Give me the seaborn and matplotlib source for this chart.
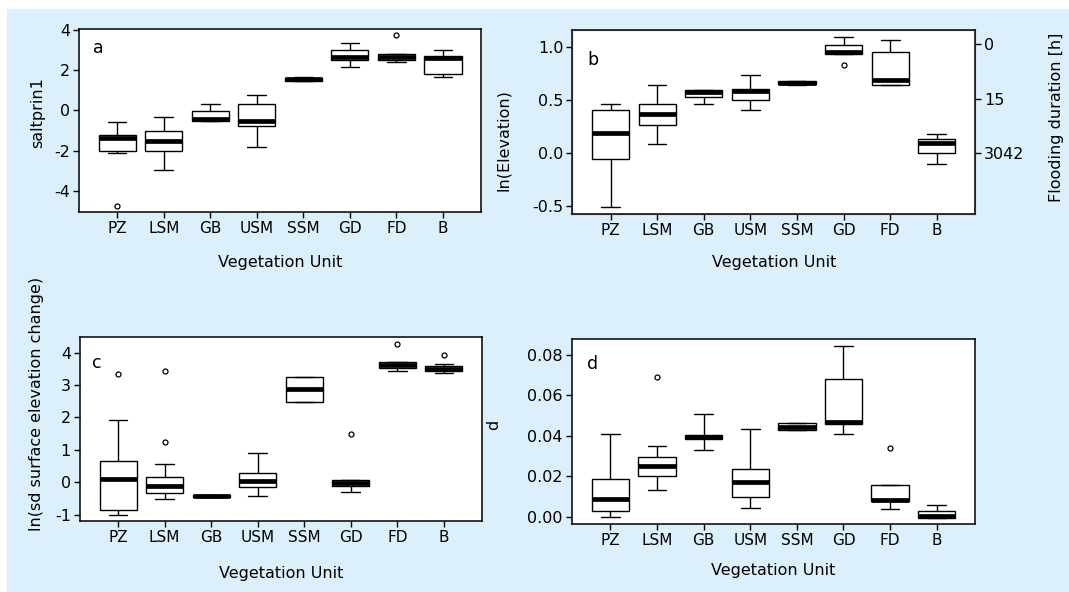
#!/usr/bin/env python3
"""
Boxplots of site variables per vegetation unit (four panels a-d).
"""

import numpy as np
import pandas as pd
import matplotlib
matplotlib.use("Agg")
import matplotlib.pyplot as plt
import seaborn as sns
from matplotlib.patches import Rectangle

units = ["PZ", "LSM", "GB", "USM", "SSM", "GD", "FD", "B"]

# five-number summaries per unit: (lower whisker, Q1, median, Q3, upper whisker)
saltprin1 = [
    (-2.11, -2.00, -1.35, -1.20, -0.58),
    (-2.97, -2.00, -1.53, -1.01, -0.31),
    (-0.52, -0.51, -0.42, -0.03, 0.30),
    (-1.80, -0.78, -0.51, 0.33, 0.78),
    (1.46, 1.48, 1.55, 1.62, 1.64),
    (2.13, 2.48, 2.66, 2.99, 3.37),
    (2.41, 2.52, 2.66, 2.79, 2.79),
    (1.65, 1.80, 2.59, 2.71, 3.00),
]
saltprin1_out_units = ["PZ", "FD"]
saltprin1_out = [-4.72, 3.73]

elevation = [
    (-0.517, -0.054, 0.186, 0.407, 0.467),
    (0.088, 0.262, 0.369, 0.464, 0.644),
    (0.467, 0.527, 0.577, 0.600, 0.600),
    (0.407, 0.502, 0.587, 0.609, 0.741),
    (0.645, 0.650, 0.666, 0.680, 0.685),
    (0.937, 0.937, 0.959, 1.025, 1.100),
    (0.644, 0.644, 0.691, 0.953, 1.066),
    (-0.104, -0.003, 0.091, 0.136, 0.183),
]
elevation_out_units = ["GD"]
elevation_out = [0.833]

# flooding duration shown on the right axis of panel b
flood_ticks = [1.03, 0.51, 0.0]
flood_labels = ["0", "15", "3042"]

sd_change = [
    (-0.99, -0.84, 0.10, 0.67, 1.92),
    (-0.51, -0.32, -0.11, 0.17, 0.57),
    (-0.45, -0.44, -0.42, -0.40, -0.39),
    (-0.42, -0.13, 0.04, 0.30, 0.90),
    (2.49, 2.49, 2.87, 3.25, 3.25),
    (-0.31, -0.12, -0.03, 0.06, 0.06),
    (3.44, 3.51, 3.61, 3.71, 3.71),
    (3.38, 3.42, 3.50, 3.60, 3.64),
]
sd_change_out_units = ["PZ", "LSM", "LSM", "GD", "FD", "B"]
sd_change_out = [3.35, 3.44, 1.25, 1.49, 4.25, 3.91]

d_values = [
    (0.0000, 0.0026, 0.0089, 0.0188, 0.0409),
    (0.0134, 0.0200, 0.0252, 0.0297, 0.0350),
    (0.0330, 0.0384, 0.0394, 0.0404, 0.0510),
    (0.0041, 0.0097, 0.0170, 0.0234, 0.0434),
    (0.0427, 0.0427, 0.0445, 0.0465, 0.0465),
    (0.0409, 0.0457, 0.0467, 0.0681, 0.0845),
    (0.0038, 0.0076, 0.0084, 0.0158, 0.0158),
    (-0.0008, -0.0008, 0.0003, 0.0028, 0.0058),
]
d_out_units = ["LSM", "FD"]
d_out = [0.0690, 0.0341]

BG = "#dcf0fb"

sns.set_style("ticks")
plt.rcParams["font.family"] = ["DejaVu Sans"]
plt.rcParams["axes.unicode_minus"] = False
plt.rcParams["text.color"] = "black"
plt.rcParams["axes.labelcolor"] = "black"
plt.rcParams["xtick.color"] = "black"
plt.rcParams["ytick.color"] = "black"


def long_frame(stats):
    rows = [(u, v) for u, s in zip(units, stats) for v in s]
    return pd.DataFrame(rows, columns=["unit", "value"])


def draw_panel(ax, stats, out_units, out_vals):
    df = long_frame(stats)
    sns.boxplot(data=df, x="unit", y="value", order=units, whis=(0, 100),
                width=0.8, color="white", saturation=1, linecolor="black",
                linewidth=1.0, showfliers=False,
                medianprops=dict(linewidth=3.4, solid_capstyle="butt"), ax=ax)
    sns.stripplot(x=out_units, y=out_vals, order=units, jitter=False,
                  color="white", edgecolor="black", linewidth=0.9, size=3.6,
                  ax=ax, zorder=5)
    ax.set_xlim(-0.82, 7.82)
    ax.tick_params(direction="out", length=4.5, width=1.0, colors="black",
                   labelsize=11.5, pad=2)
    ax.tick_params(axis="x", labelsize=11)
    for sp in ax.spines.values():
        sp.set_visible(True)
        sp.set_linewidth(1.1)
        sp.set_color("black")
    ax.set_facecolor("white")


fig = plt.figure(figsize=(10.69, 5.92), dpi=100)
fig.patch.set_facecolor("white")
fig.patches.append(Rectangle((7 / 1069, 0), 1, 1 - 9 / 592,
                             transform=fig.transFigure, color=BG, zorder=-10))

ax_a = fig.add_axes([0.0739, 0.6419, 0.3761, 0.3091])
ax_b = fig.add_axes([0.5354, 0.6385, 0.3767, 0.3108])
ax_c = fig.add_axes([0.0748, 0.1194, 0.3761, 0.3108])
ax_d = fig.add_axes([0.5351, 0.1154, 0.3770, 0.3115])

draw_panel(ax_a, saltprin1, saltprin1_out_units, saltprin1_out)
ax_a.set_ylim(-5.04, 4.04)
ax_a.set_yticks([-4, -2, 0, 2, 4])
ax_a.set_ylabel("saltprin1", fontsize=11.5)
ax_a.yaxis.set_label_coords(-0.085, 0.544)
ax_a.text(0.047, 0.895, "a", transform=ax_a.transAxes, ha="center", va="center", fontsize=12.5)
ax_a.xaxis.set_label_coords(0.572, -0.235)

draw_panel(ax_b, elevation, elevation_out_units, elevation_out)
ax_b.set_ylim(-0.58, 1.165)
ax_b.set_yticks([-0.5, 0.0, 0.5, 1.0])
ax_b.set_yticklabels(["-0.5", "0.0", "0.5", "1.0"])
ax_b.set_ylabel("ln(Elevation)", fontsize=11.5)
ax_b.yaxis.set_label_coords(-0.152, 0.40)
ax_b.text(0.052, 0.837, "b", transform=ax_b.transAxes, ha="center", va="center", fontsize=12.5)
ax_b.xaxis.set_label_coords(0.562, -0.223)

ax_b2 = ax_b.twinx()
ax_b2.set_ylim(ax_b.get_ylim())
ax_b2.set_yticks(flood_ticks)
ax_b2.set_yticklabels(flood_labels)
ax_b2.tick_params(direction="out", length=4.5, width=1.0, labelsize=11.5, pad=2)
ax_b2.set_ylabel("Flooding duration [h]", fontsize=11.5)
ax_b2.yaxis.set_label_coords(1.184, 0.524)

draw_panel(ax_c, sd_change, sd_change_out_units, sd_change_out)
ax_c.set_ylim(-1.2, 4.47)
ax_c.set_yticks([-1, 0, 1, 2, 3, 4])
ax_c.set_ylabel("ln(sd surface elevation change)", fontsize=11.5)
ax_c.yaxis.set_label_coords(-0.09, 0.64)
ax_c.text(0.042, 0.859, "c", transform=ax_c.transAxes, ha="center", va="center", fontsize=12.5)
ax_c.xaxis.set_label_coords(0.517, -0.243)

draw_panel(ax_d, d_values, d_out_units, d_out)
ax_d.set_ylim(-0.0035, 0.0878)
ax_d.set_yticks([0.0, 0.02, 0.04, 0.06, 0.08])
ax_d.set_yticklabels(["0.00", "0.02", "0.04", "0.06", "0.08"])
ax_d.set_ylabel("d", fontsize=11.5)
ax_d.yaxis.set_label_coords(-0.175, 0.535)
ax_d.text(0.052, 0.866, "d", transform=ax_d.transAxes, ha="center", va="center", fontsize=12.5)
ax_d.xaxis.set_label_coords(0.501, -0.215)

for ax in (ax_a, ax_b, ax_c, ax_d):
    ax.set_xlabel("Vegetation Unit", fontsize=11.5)

fig.savefig("out.png", dpi=100, facecolor=fig.get_facecolor())
